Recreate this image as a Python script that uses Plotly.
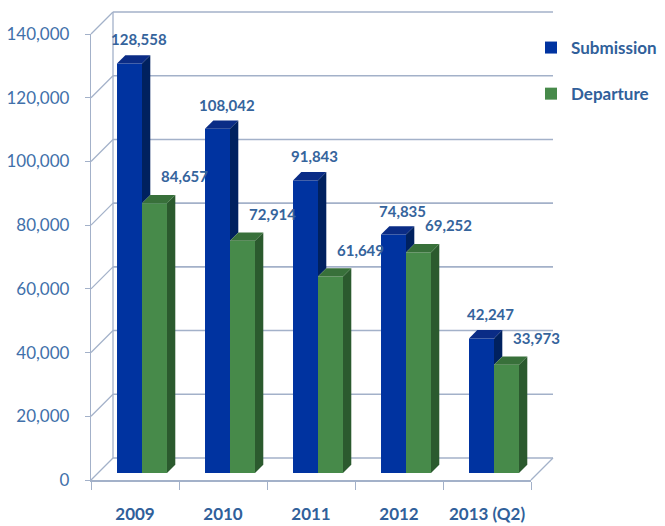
import plotly.graph_objects as go

# ---------------- data ----------------
years = ["2009", "2010", "2011", "2012", "2013 (Q2)"]
submission = [128558, 108042, 91843, 74835, 42247]
departure = [84657, 72914, 61649, 69252, 33973]
y_ticks = [0, 20000, 40000, 60000, 80000, 100000, 120000, 140000]

# ---------------- style / geometry ----------------
W_PX, H_PX = 665, 526
YMAX = 140000
BLUE, BLUE_TOP, BLUE_SIDE = "#0033A0", "#0A2C86", "#00215F"
GREEN, GREEN_TOP, GREEN_SIDE = "#478A4A", "#38703A", "#2B5A2E"
LABEL_C = "#35649C"
TICK_C = "#4170AA"
GRID_C = "#A3B1C9"
FONT = "Lato, Open Sans, sans-serif"

# planes (pixel positions of the 0 line and x extent)
FRONT_X0, FRONT_X1, FRONT_Y0 = 91, 531, 480
PLOT_H = 446              # pixels for 0..YMAX
DEPTH = 22                # front -> back wall offset (px)
BAR_SHIFT = 7             # front -> bar plane offset (px)
BAR_W = 0.284             # bar width (category units)
BAR_DEPTH_PX = 8.3        # bar 3D depth (px)

n = len(years)
idx = list(range(n))
cat_px = (FRONT_X1 - FRONT_X0) / n
dx = BAR_DEPTH_PX / cat_px
dy = BAR_DEPTH_PX / PLOT_H * YMAX


def px2fx(px):
    return px / W_PX


def py2fy(py):
    return (H_PX - py) / H_PX


def dom_y(y0px):
    return [py2fy(y0px), py2fy(y0px - PLOT_H)]


fig = go.Figure()

# bars (bar plane)
fig.add_trace(go.Bar(
    x=idx, y=submission, name="Submission", offset=-BAR_W, width=BAR_W,
    marker=dict(color=BLUE, line=dict(width=0)), xaxis="x", yaxis="y",
    legendgroup="s", hoverinfo="y"))
fig.add_trace(go.Bar(
    x=idx, y=departure, name="Departure", offset=0, width=BAR_W,
    marker=dict(color=GREEN, line=dict(width=0)), xaxis="x", yaxis="y",
    legendgroup="d", hoverinfo="y"))
# invisible trace to carry the front-plane category axis
fig.add_trace(go.Scatter(
    x=years, y=[0] * n, mode="markers", marker=dict(opacity=0),
    xaxis="x2", yaxis="y2", showlegend=False, hoverinfo="skip"))

shapes = []
# ---- walls (below everything) ----
for v in y_ticks:
    yf = FRONT_Y0 - v / YMAX * PLOT_H
    yb = yf - DEPTH
    shapes.append(dict(type="line", xref="paper", yref="paper",
                       x0=px2fx(FRONT_X0 + DEPTH), x1=px2fx(FRONT_X1 + DEPTH),
                       y0=py2fy(yb), y1=py2fy(yb), layer="below",
                       line=dict(color=GRID_C, width=1.6)))
    shapes.append(dict(type="line", xref="paper", yref="paper",
                       x0=px2fx(FRONT_X0), x1=px2fx(FRONT_X0 + DEPTH),
                       y0=py2fy(yf), y1=py2fy(yb), layer="below",
                       line=dict(color=GRID_C, width=1.3)))
shapes.append(dict(type="line", xref="paper", yref="paper",
                   x0=px2fx(FRONT_X0 + DEPTH), x1=px2fx(FRONT_X0 + DEPTH),
                   y0=py2fy(FRONT_Y0 - DEPTH), y1=py2fy(FRONT_Y0 - DEPTH - PLOT_H),
                   layer="below", line=dict(color=GRID_C, width=1.3)))
shapes.append(dict(type="line", xref="paper", yref="paper",
                   x0=px2fx(FRONT_X1), x1=px2fx(FRONT_X1 + DEPTH),
                   y0=py2fy(FRONT_Y0), y1=py2fy(FRONT_Y0 - DEPTH), layer="below",
                   line=dict(color=GRID_C, width=1.3)))


def poly(pts, color):
    path = "M " + " L ".join(f"{x},{y}" for x, y in pts) + " Z"
    return dict(type="path", xref="x", yref="y", path=path,
                fillcolor=color, line=dict(width=0), layer="above")


# ---- 3D faces of the bars ----
for i, b, g in zip(idx, submission, departure):
    xb0, xb1 = i - BAR_W, i
    xg0, xg1 = i, i + BAR_W
    shapes.append(poly([(xb0, b), (xb1, b), (xb1 + dx, b + dy), (xb0 + dx, b + dy)], BLUE_TOP))
    shapes.append(poly([(xb1, g), (xb1, b), (xb1 + dx, b + dy), (xb1 + dx, g + dy)], BLUE_SIDE))
    shapes.append(poly([(xg1, 0), (xg1, g), (xg1 + dx, g + dy), (xg1 + dx, dy)], GREEN_SIDE))
    shapes.append(poly([(xg0, g), (xg1, g), (xg1 + dx, g + dy), (xg0 + dx, g + dy)], GREEN_TOP))

# ---- data labels ----
annotations = []
lab_font = dict(family=FONT, size=15, color=LABEL_C, weight="bold")
for i, b, g in zip(idx, submission, departure):
    annotations.append(dict(x=i - BAR_W / 2, y=b, xref="x", yref="y",
                            text=f"{b:,}", showarrow=False, xshift=9, yshift=24,
                            font=lab_font))
    annotations.append(dict(x=i + BAR_W / 2, y=g, xref="x", yref="y",
                            text=f"{g:,}", showarrow=False, xshift=30, yshift=27,
                            font=lab_font))

bar_x0 = FRONT_X0 + BAR_SHIFT
fig.update_layout(
    width=W_PX, height=H_PX,
    margin=dict(l=0, r=0, t=0, b=0, autoexpand=False),
    paper_bgcolor="white", plot_bgcolor="rgba(0,0,0,0)",
    barmode="overlay",
    showlegend=True,
    legend=dict(x=px2fx(531), y=py2fy(30), xanchor="left", yanchor="top",
                traceorder="grouped", tracegroupgap=21,
                font=dict(family=FONT, size=17, color="#30609A", weight="bold"),
                bgcolor="rgba(0,0,0,0)"),
    xaxis=dict(domain=[px2fx(bar_x0), px2fx(bar_x0 + FRONT_X1 - FRONT_X0)],
               range=[-0.5, n - 0.5], visible=False, anchor="y", fixedrange=True),
    yaxis=dict(domain=dom_y(FRONT_Y0 - BAR_SHIFT), range=[0, YMAX],
               visible=False, anchor="x", fixedrange=True),
    xaxis2=dict(domain=[px2fx(FRONT_X0), px2fx(FRONT_X1)], anchor="y2",
                type="category", categoryorder="array", categoryarray=years,
                range=[-0.5, n - 0.5], tickangle=0,
                showline=True, linecolor=GRID_C, linewidth=1.6,
                ticks="outside", tickson="boundaries", ticklen=8, tickwidth=1.3,
                tickcolor=GRID_C, showgrid=False, zeroline=False,
                ticklabelstandoff=18,
                tickfont=dict(family=FONT, size=17, color="#30609A", weight="bold"),
                fixedrange=True),
    yaxis2=dict(domain=dom_y(FRONT_Y0), anchor="x2", range=[0, YMAX],
                tickvals=y_ticks, tickformat=",",
                showline=True, linecolor=GRID_C, linewidth=1.3,
                ticks="outside", ticklen=5, tickwidth=1.3, tickcolor=GRID_C,
                showgrid=False, zeroline=False, ticklabelstandoff=12,
                tickfont=dict(family=FONT, size=17, color=TICK_C),
                fixedrange=True),
    shapes=shapes,
    annotations=annotations,
)

fig.write_html("out.html")
